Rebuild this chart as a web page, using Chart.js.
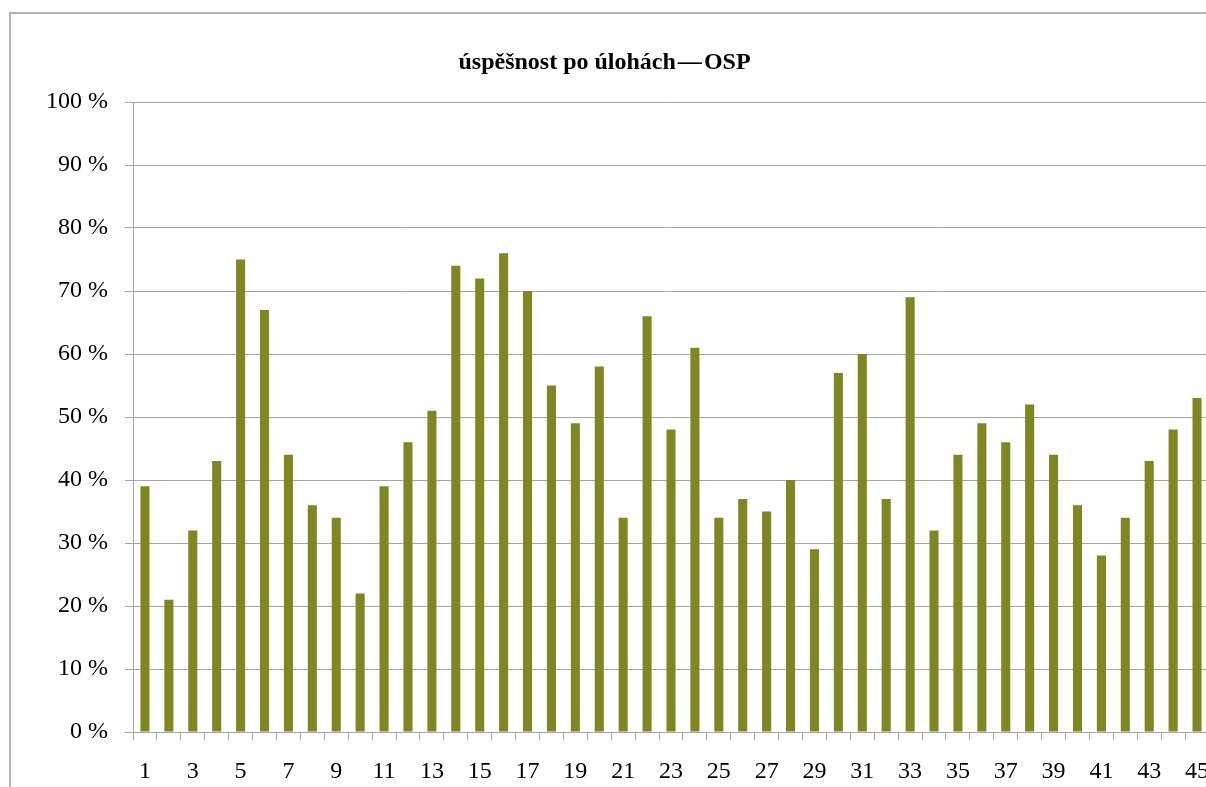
<!DOCTYPE html>
<html>
<head>
<meta charset="utf-8">
<script src="https://cdn.jsdelivr.net/npm/chart.js@4"></script>
<style>
  html, body { margin: 0; padding: 0; background: #fff; overflow: hidden; }
  #frame { position: absolute; left: 9px; top: 12px; width: 1400px; height: 900px;
           border-left: 2px solid #b3b3b3; border-top: 2px solid #b3b3b3; }
  #wrap { position: absolute; left: 0; top: 0; width: 1230px; height: 787px; }
</style>
</head>
<body>
<div id="frame"></div>
<div id="wrap"><canvas id="bars" width="1230" height="787"></canvas></div>
<script>
const tasks = ['1','2','3','4','5','6','7','8','9','10','11','12','13','14','15',
  '16','17','18','19','20','21','22','23','24','25','26','27','28','29','30',
  '31','32','33','34','35','36','37','38','39','40','41','42','43','44','45'];
const success = [39, 21, 32, 43, 75, 67, 44, 36, 34, 22, 39, 46, 51, 74, 72,
  76, 70, 55, 49, 58, 34, 66, 48, 61, 34, 37, 35, 40, 29, 57,
  60, 37, 69, 32, 44, 49, 46, 52, 44, 36, 28, 34, 43, 48, 53];
const yTicks = [0, 10, 20, 30, 40, 50, 60, 70, 80, 90, 100];

const serif = '"Liberation Serif", "DejaVu Serif", serif';
const gridGray = '#a6a6a6';

new Chart(document.getElementById('bars'), {
  type: 'bar',
  data: {
    labels: tasks,
    datasets: [{
      label: 'úspěšnost',
      data: success,
      backgroundColor: 'rgb(128,134,34)',
      categoryPercentage: 1,
      barPercentage: 0.38
    }]
  },
  options: {
    responsive: false,
    animation: false,
    layout: { padding: { left: 0, right: 21, top: 0, bottom: 0 } },
    plugins: {
      legend: { display: false },
      tooltip: { enabled: false },
      title: {
        display: true,
        text: 'úspěšnost po úlohách\u200a—\u200aOSP',
        color: '#000',
        font: { family: serif, size: 24, weight: 'bold', lineHeight: 1.2 },
        padding: { top: 48, bottom: 25.2 }
      }
    },
    scales: {
      x: {
        afterFit: s => { s.height = 55; },
        grid: { offset: true, drawOnChartArea: false, drawTicks: true, tickLength: 8, color: gridGray },
        border: { color: gridGray },
        ticks: {
          autoSkip: false,
          maxRotation: 0,
          padding: 17,
          color: '#000',
          font: { family: serif, size: 24 },
          callback: (v, i) => (i % 2 === 0 ? tasks[i] : '')
        }
      },
      y: {
        min: 0,
        max: 100,
        afterFit: s => { s.width = 133; },
        afterBuildTicks: s => { s.ticks = yTicks.map(v => ({ value: v })); },
        grid: { tickLength: 8, color: gridGray },
        border: { color: gridGray },
        ticks: {
          padding: 17,
          color: '#000',
          font: { family: serif, size: 24 },
          callback: v => v + ' %'
        }
      }
    }
  }
});
</script>
</body>
</html>
